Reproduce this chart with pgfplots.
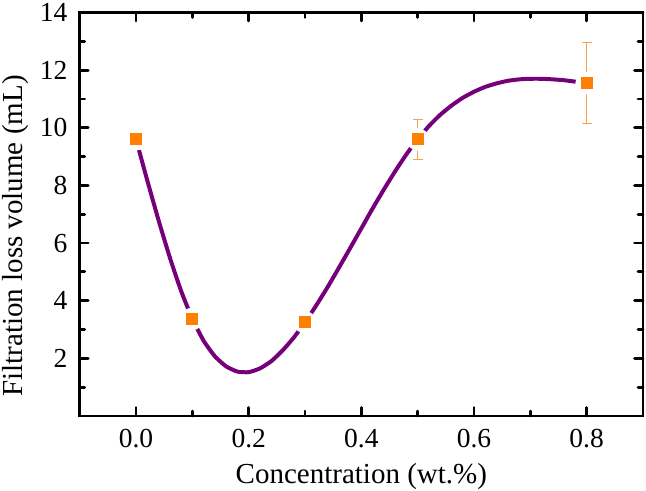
\documentclass[border=0pt]{standalone}
\usepackage{pgfplots}
\pgfplotsset{compat=1.18}
\usepackage{fontspec}
\setmainfont{Liberation Serif}
\definecolor{curvepurple}{RGB}{118,0,122}
\definecolor{mkorange}{RGB}{255,127,0}
\definecolor{errorange}{RGB}{250,160,80}
\begin{document}
\begin{tikzpicture}
\begin{axis}[
  scale only axis,
  width=563.3bp, height=403.5bp,
  xmin=-0.1, xmax=0.9, ymin=0, ymax=14,
  xtick={0,0.2,0.4,0.6,0.8},
  minor xtick={0.1,0.3,0.5,0.7},
  ytick={2,4,6,8,10,12,14},
  minor ytick={1,3,5,7,9,11,13},
  /pgf/number format/assume math mode=true,
  tick align=inside,
  major tick length=8.5bp, minor tick length=5bp,
  every tick/.style={black, line width=2.8pt, line cap=round},
  axis line style={line width=2.9pt},
  ticklabel style={font=\fontsize{27.5bp}{31bp}\selectfont},
  yticklabel style={inner sep=0pt, xshift=-12bp},
  xticklabel style={inner sep=0pt, yshift=-13bp, /pgf/number format/.cd, fixed, fixed zerofill, precision=1},
  xlabel={Concentration (wt.\%)},
  ylabel={Filtration loss volume (mL)},
  every axis x label/.style={at={(axis description cs:0.5,0)}, anchor=base, yshift=-67bp, font=\fontsize{29bp}{33bp}\selectfont},
  every axis y label/.style={at={(axis description cs:-0.1012,0.446)}, anchor=base, rotate=90, font=\fontsize{29bp}{33bp}\selectfont},
  clip=false,
]
% fitted spline curve
\addplot[curvepurple, line width=4pt, smooth, tension=0.3] coordinates {
 (0.00,9.60) (0.02,8.17) (0.04,6.79) (0.06,5.50) (0.08,4.34) (0.10,3.37)
 (0.12,2.61) (0.14,2.07) (0.16,1.72) (0.18,1.54) (0.20,1.52) (0.22,1.65)
 (0.24,1.90) (0.26,2.27) (0.28,2.72) (0.30,3.25)
 (0.32,3.84) (0.34,4.47) (0.36,5.14) (0.38,5.82) (0.40,6.51) (0.42,7.20)
 (0.44,7.86) (0.46,8.49) (0.48,9.08) (0.50,9.60)
 (0.52,10.06) (0.54,10.45) (0.56,10.77) (0.58,11.04) (0.60,11.25) (0.62,11.42)
 (0.64,11.54) (0.66,11.63) (0.68,11.68) (0.70,11.70) (0.72,11.70) (0.74,11.68)
 (0.76,11.65) (0.78,11.60) (0.80,11.55)
};
% white gaps around the markers
\addplot[only marks, mark=*, mark size=11bp, mark options={draw=white, fill=white}] coordinates {
 (0,9.60) (0.1,3.37) (0.3,3.25) (0.5,9.60) (0.8,11.55)
};
% error bars
\addplot[draw=none, mark=none, forget plot,
  error bars/.cd, y dir=both, y explicit,
  error bar style={errorange, line width=1.1pt},
  error mark options={errorange, line width=1.1pt, mark size=5bp, rotate=90}]
coordinates {
 (0,9.60) +- (0,0.35)
 (0.1,3.37) +- (0,0.08)
 (0.3,3.25) +- (0,0.08)
 (0.5,9.60) +- (0,0.70)
 (0.8,11.55) +- (0,1.40)
};
% measured points
\addplot[only marks, mark=square*, mark size=5.5bp, mark options={fill=mkorange, draw=mkorange, line width=0pt}]
coordinates {
 (0,9.60) (0.1,3.37) (0.3,3.25) (0.5,9.60) (0.8,11.55)
};
\path (rel axis cs:0,0) ++(-79.7bp,-75bp) coordinate (bbsw);
\path (rel axis cs:1,1) ++(3bp,12.5bp) coordinate (bbne);
\end{axis}
\pgfresetboundingbox
\path[use as bounding box] (bbsw) rectangle (bbne);
\end{tikzpicture}
\end{document}
